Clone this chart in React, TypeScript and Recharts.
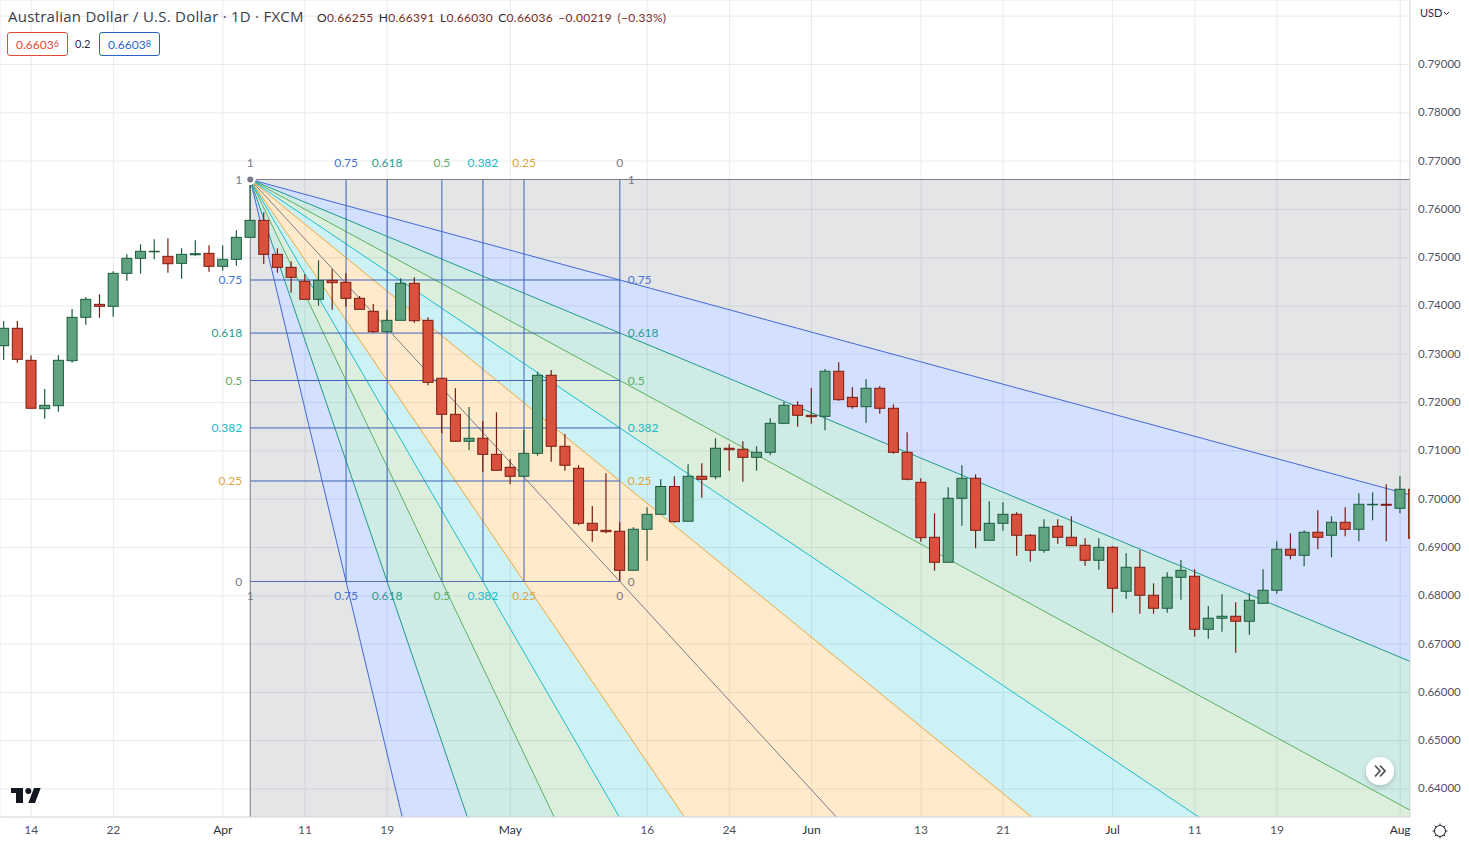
import { Area, Bar, CartesianGrid, ComposedChart, Line, ReferenceDot, ReferenceLine, XAxis, YAxis } from "recharts";

const firstBar = -2;
const opens = [
  0.73177, 0.73538, 0.72875, 0.71873, 0.71935, 0.72867, 0.73765, 0.74034, 0.73993, 0.74676, 0.74987, 0.7513, 0.75028,
  0.74883, 0.75061, 0.7509, 0.74821, 0.74966, 0.75421, 0.75773, 0.75069, 0.748, 0.74511, 0.74138, 0.74531, 0.7449,
  0.74159, 0.7389, 0.73467, 0.73703, 0.74469, 0.73703, 0.72503, 0.71757, 0.71199, 0.71261, 0.70929, 0.7066, 0.70474,
  0.7095, 0.72565, 0.71095, 0.7064, 0.69501, 0.69356, 0.69336, 0.68528, 0.69377, 0.69687, 0.70263, 0.69543, 0.70474,
  0.70466, 0.71054, 0.71033, 0.70867, 0.70971, 0.71571, 0.71944, 0.71737, 0.71716, 0.72648, 0.72109, 0.71915, 0.72296,
  0.71882, 0.70971, 0.7035, 0.69211, 0.68694, 0.70019, 0.70433, 0.69149, 0.69501, 0.69687, 0.69253, 0.68942, 0.69439,
  0.69211, 0.69046, 0.68735, 0.69004, 0.68094, 0.6859, 0.68011, 0.67742, 0.68383, 0.68404, 0.67307, 0.67535, 0.67576,
  0.67473, 0.67845, 0.68114, 0.68963, 0.68839, 0.69315, 0.69253, 0.69522, 0.69377, 0.6989, 0.69894, 0.69812, 0.70205,
];
const highs = [
  0.73689, 0.73689, 0.72979, 0.72281, 0.72979, 0.73937, 0.74186, 0.74241, 0.74718, 0.75069, 0.75276, 0.7538, 0.75401,
  0.75194, 0.75359, 0.75256, 0.75256, 0.75566, 0.76619, 0.75939, 0.75194, 0.74925, 0.74655, 0.74945, 0.74765, 0.74676,
  0.74206, 0.74041, 0.73916, 0.74573, 0.74593, 0.73765, 0.72503, 0.72296, 0.71909, 0.71619, 0.71799, 0.70826, 0.71432,
  0.72639, 0.72674, 0.7135, 0.70702, 0.69859, 0.70536, 0.69522, 0.69418, 0.69832, 0.70412, 0.70474, 0.70722, 0.70743,
  0.71261, 0.71136, 0.71199, 0.71095, 0.71675, 0.72018, 0.72027, 0.72302, 0.72695, 0.72834, 0.72316, 0.72482, 0.72343,
  0.71964, 0.71385, 0.70433, 0.69708, 0.70246, 0.70702, 0.70515, 0.69957, 0.69936, 0.69729, 0.6928, 0.69584, 0.69584,
  0.69646, 0.69191, 0.69191, 0.69025, 0.6888, 0.68948, 0.68259, 0.68487, 0.68741, 0.68549, 0.67789, 0.68031, 0.67866,
  0.68052, 0.68549, 0.69129, 0.69294, 0.69356, 0.6977, 0.69646, 0.69832, 0.70122, 0.70143, 0.70308, 0.70474, 0.703,
];
const lows = [
  0.72881, 0.72826, 0.71882, 0.71666, 0.71811, 0.72826, 0.73612, 0.73757, 0.73778, 0.74523, 0.74668, 0.74966, 0.74689,
  0.74564, 0.7504, 0.74709, 0.7473, 0.74833, 0.75421, 0.74869, 0.74689, 0.74275, 0.74138, 0.74005, 0.73923, 0.73985,
  0.73931, 0.73447, 0.73447, 0.73703, 0.73654, 0.72358, 0.71364, 0.71199, 0.71018, 0.70569, 0.70598, 0.70308, 0.70474,
  0.709, 0.70776, 0.7059, 0.6946, 0.6912, 0.69294, 0.68307, 0.68528, 0.68727, 0.69687, 0.69514, 0.69543, 0.70031,
  0.70412, 0.7059, 0.70362, 0.7059, 0.70909, 0.7155, 0.71501, 0.71563, 0.71426, 0.72039, 0.71873, 0.71584, 0.7177,
  0.70942, 0.70391, 0.6912, 0.6852, 0.68694, 0.69451, 0.68984, 0.69149, 0.69348, 0.6883, 0.68706, 0.68893, 0.69079,
  0.69037, 0.68623, 0.68541, 0.6765, 0.6794, 0.6763, 0.6763, 0.6765, 0.6792, 0.67154, 0.67112, 0.67257, 0.66823,
  0.67195, 0.67845, 0.68044, 0.68756, 0.68611, 0.68963, 0.68797, 0.69232, 0.69129, 0.69563, 0.69129, 0.69708, 0.69191,
];
const closes = [
  0.73538, 0.72896, 0.71882, 0.71944, 0.72875, 0.73765, 0.74138, 0.73993, 0.74676, 0.74987, 0.75132, 0.75132, 0.74875,
  0.75069, 0.75082, 0.74821, 0.74966, 0.75421, 0.75773, 0.75069, 0.748, 0.74593, 0.74138, 0.74531, 0.74482, 0.74159,
  0.73931, 0.73467, 0.73703, 0.74469, 0.73695, 0.7242, 0.71757, 0.71199, 0.71261, 0.70929, 0.70598, 0.70474, 0.7095,
  0.72565, 0.71095, 0.70702, 0.69501, 0.69356, 0.69327, 0.68528, 0.69377, 0.69687, 0.70263, 0.69534, 0.70474, 0.70412,
  0.71054, 0.71025, 0.70867, 0.70971, 0.71571, 0.71944, 0.71737, 0.71708, 0.72648, 0.7206, 0.71915, 0.72296, 0.71882,
  0.70971, 0.70412, 0.69203, 0.68694, 0.70019, 0.70433, 0.69356, 0.69501, 0.69687, 0.69253, 0.68942, 0.69418, 0.69211,
  0.69037, 0.68735, 0.69004, 0.68156, 0.6859, 0.68011, 0.67742, 0.68383, 0.68528, 0.67307, 0.67535, 0.67576, 0.67473,
  0.67907, 0.68114, 0.68963, 0.68839, 0.69315, 0.69211, 0.69522, 0.69377, 0.69894, 0.69894, 0.69874, 0.70205, 0.69191,
];

const tickBars = [0, 6, 14, 20, 26, 35, 45, 51, 57, 65, 71, 79, 85, 91, 100];
const tickLabels = ["14", "22", "Apr", "11", "19", "May", "16", "24", "Jun", "13", "21", "Jul", "11", "19", "Aug"];
const priceTicks = [0.8, 0.79, 0.78, 0.77, 0.76, 0.75, 0.74, 0.73, 0.72, 0.71, 0.7, 0.69, 0.68, 0.67, 0.66, 0.65, 0.64];

// fan drawing: anchored on the high bar, box ends on the low bar, time levels snap to bars
const anchorBar = 16;
const endBar = 43;
const topPrice = 0.76619;
const zeroPrice = 0.68296;
const levels = [0.75, 0.618, 0.5, 0.382, 0.25];
const levelBars = [23, 26, 30, 33, 36];
const levelNames = ["0.75", "0.618", "0.5", "0.382", "0.25"];
const lineColors = ["#4169d8", "#1f9a8a", "#5cb060", "#1cbcd0", "#f0a83c"];
const labelColors = ["#4a72d0", "#2a9d8c", "#5fae63", "#22b8c9", "#e0a33f"];
const fillColors = ["#2962ff", "#089981", "#4caf50", "#00bcd4", "#ff9800"];
const gray = "#787b86";

const xMin = -2.28;
const xMax = 100.72;
const yMin = 0.6342;
const yMax = 0.80335;

const candles = opens.map((open, i) => ({
  x: firstBar + i,
  open,
  high: highs[i],
  low: lows[i],
  close: closes[i],
}));

const levelPrice = (l: number) => zeroPrice + l * (topPrice - zeroPrice);
const priceAtEdge = (throughBar: number, throughPrice: number) =>
  topPrice + ((throughPrice - topPrice) * (xMax - anchorBar)) / (throughBar - anchorBar);

const hEdge = levels.map((l) => priceAtEdge(endBar, levelPrice(l)));
const vEdge = levelBars.map((b) => priceAtEdge(b, zeroPrice));
const zeroEdge = priceAtEdge(endBar, zeroPrice);

const wedge = (a: number, b: number) => [
  { x: anchorBar, band: [topPrice, topPrice] },
  { x: xMax, band: [a, b] },
];
const ray = (edge: number) => [
  { x: anchorBar, y: topPrice },
  { x: xMax, y: edge },
];

function Candle(props: any) {
  const { x, y, width, height, payload } = props;
  const { open, high, low, close } = payload;
  const k = height / (high - low);
  const up = close >= open;
  const top = y + (high - Math.max(open, close)) * k;
  const bottom = y + (high - Math.min(open, close)) * k;
  const mid = x + width / 2;
  const edge = up ? "#1d5c3f" : "#7b1c10";
  return (
    <g>
      <line x1={mid} x2={mid} y1={y} y2={y + height} stroke={edge} strokeWidth={1.2} />
      <rect
        x={mid - 5}
        y={top}
        width={10}
        height={Math.max(bottom - top, 0.5)}
        fill={up ? "#60a381" : "#d9503c"}
        stroke={edge}
        strokeWidth={1}
      />
    </g>
  );
}

function BarTick(props: any) {
  const { x, y, payload } = props;
  const label = tickLabels[tickBars.indexOf(payload.value)];
  const month = /[A-Za-z]/.test(label);
  return (
    <text x={x} y={y + 9} textAnchor="middle" fontSize={12} fill={month ? "#2a2e39" : "#50535e"}>
      {label}
    </text>
  );
}

function PriceTick(props: any) {
  const { x, y, payload } = props;
  if (payload.value >= 0.8) return null;
  return (
    <text x={x} y={y + 3.5} fontSize={11.5} fill="#50535e">
      {payload.value.toFixed(5)}
    </text>
  );
}

const dotLabel = (x: number, y: number, value: string, position: string, fill: string, offset = 8) => (
  <ReferenceDot
    key={`${position}-${value}-${x}-${y}`}
    x={x}
    y={y}
    r={0}
    stroke="none"
    fill="none"
    ifOverflow="visible"
    label={{ value, position, fill, fontSize: 12, offset }}
  />
);

export default function App() {
  return (
    <div
      style={{
        position: "absolute",
        left: 0,
        top: 0,
        width: 1469,
        height: 845,
        overflow: "hidden",
        background: "#fff",
        fontFamily: "Lato, sans-serif",
      }}
    >
      <ComposedChart
        width={1469}
        height={845}
        data={candles}
        margin={{ top: 0, right: 0, bottom: 0, left: 0 }}
      >
        <CartesianGrid stroke="#e9eaed" strokeWidth={1} />
        <XAxis
          dataKey="x"
          type="number"
          domain={[xMin, xMax]}
          allowDataOverflow
          ticks={tickBars}
          interval={0}
          height={28}
          tick={<BarTick />}
          tickLine={false}
          axisLine={{ stroke: "#dadbe0" }}
        />
        <YAxis
          orientation="right"
          type="number"
          domain={[yMin, yMax]}
          allowDataOverflow
          ticks={priceTicks}
          interval={0}
          width={59}
          tickLine={false}
          tickMargin={2}
          axisLine={{ stroke: "#dadbe0" }}
          tick={<PriceTick />}
        />

        <Area data={wedge(topPrice, hEdge[0])} dataKey="band" stroke="none" fill={gray} fillOpacity={0.2} isAnimationActive={false} />
        {levels.map((_, i) => (
          <Area
            key={`h${i}`}
            data={wedge(hEdge[i], i < 4 ? hEdge[i + 1] : zeroEdge)}
            dataKey="band"
            stroke="none"
            fill={fillColors[i]}
            fillOpacity={0.2}
            isAnimationActive={false}
          />
        ))}
        {levels.map((_, i) => (
          <Area
            key={`v${i}`}
            data={wedge(vEdge[i], i < 4 ? vEdge[i + 1] : zeroEdge)}
            dataKey="band"
            stroke="none"
            fill={fillColors[i]}
            fillOpacity={0.2}
            isAnimationActive={false}
          />
        ))}
        <Area
          data={[
            { x: anchorBar, band: [vEdge[0], topPrice] },
            { x: xMax, band: [vEdge[0], vEdge[0]] },
          ]}
          dataKey="band"
          stroke="none"
          fill={gray}
          fillOpacity={0.2}
          isAnimationActive={false}
        />

        {levels.map((_, i) => (
          <Line key={`hr${i}`} data={ray(hEdge[i])} dataKey="y" stroke={lineColors[i]} strokeWidth={1} dot={false} isAnimationActive={false} />
        ))}
        {levels.map((_, i) => (
          <Line key={`vr${i}`} data={ray(vEdge[i])} dataKey="y" stroke={lineColors[i]} strokeWidth={1} dot={false} isAnimationActive={false} />
        ))}
        <Line data={ray(zeroEdge)} dataKey="y" stroke={gray} strokeWidth={1} dot={false} isAnimationActive={false} />

        {levels.map((l) => (
          <ReferenceLine
            key={`box-h${l}`}
            segment={[{ x: anchorBar, y: levelPrice(l) }, { x: endBar, y: levelPrice(l) }]}
            stroke="#3d62b8"
            ifOverflow="visible"
          />
        ))}
        {levelBars.map((b) => (
          <ReferenceLine
            key={`box-v${b}`}
            segment={[{ x: b, y: topPrice }, { x: b, y: zeroPrice }]}
            stroke="#3d62b8"
            ifOverflow="visible"
          />
        ))}
        <ReferenceLine segment={[{ x: endBar, y: topPrice }, { x: endBar, y: zeroPrice }]} stroke="#3d62b8" ifOverflow="visible" />
        <ReferenceLine segment={[{ x: anchorBar, y: zeroPrice }, { x: endBar, y: zeroPrice }]} stroke="#5a6fae" ifOverflow="visible" />
        <ReferenceLine segment={[{ x: anchorBar, y: topPrice }, { x: xMax, y: topPrice }]} stroke={gray} ifOverflow="visible" />
        <ReferenceLine segment={[{ x: anchorBar, y: topPrice }, { x: anchorBar, y: yMin }]} stroke={gray} ifOverflow="visible" />

        <Bar zIndex={900} dataKey={(d: any) => [d.low, d.high]} barSize={10} shape={<Candle />} isAnimationActive={false} />

        {levels.map((l, i) => dotLabel(anchorBar, levelPrice(l), levelNames[i], "left", labelColors[i]))}
        {levels.map((l, i) => dotLabel(endBar, levelPrice(l), levelNames[i], "right", labelColors[i]))}
        {levelBars.map((b, i) => dotLabel(b, topPrice, levelNames[i], "top", labelColors[i], 12))}
        {levelBars.map((b, i) => dotLabel(b, zeroPrice, levelNames[i], "bottom", labelColors[i], 10))}
        {dotLabel(anchorBar, topPrice, "1", "left", gray)}
        {dotLabel(anchorBar, topPrice, "1", "top", gray, 12)}
        {dotLabel(endBar, topPrice, "1", "right", gray)}
        {dotLabel(endBar, topPrice, "0", "top", gray, 12)}
        {dotLabel(anchorBar, zeroPrice, "0", "left", gray)}
        {dotLabel(anchorBar, zeroPrice, "1", "bottom", gray, 10)}
        {dotLabel(endBar, zeroPrice, "0", "right", gray)}
        {dotLabel(endBar, zeroPrice, "0", "bottom", gray, 10)}
      </ComposedChart>

      <div style={{ position: "absolute", left: 8, top: 6, fontSize: 15, letterSpacing: 0.25, fontFamily: "'Open Sans', sans-serif", color: "#3a3e49", whiteSpace: "nowrap" }}>
        Australian Dollar / U.S. Dollar · 1D · FXCM
      </div>
      <div style={{ position: "absolute", left: 317, top: 10, fontSize: 12, color: "#7a2b25", whiteSpace: "nowrap", wordSpacing: 2, letterSpacing: 0.27 }}>
        <span style={{ color: "#2a2e39" }}>O</span>0.66255 <span style={{ color: "#2a2e39" }}>H</span>0.66391{" "}
        <span style={{ color: "#2a2e39" }}>L</span>0.66030 <span style={{ color: "#2a2e39" }}>C</span>0.66036 −0.00219 (−0.33%)
      </div>
      <div style={{ position: "absolute", left: 7, top: 32, width: 59, height: 22, border: "1px solid #e0483a", borderRadius: 3, color: "#e0483a", fontSize: 12, lineHeight: "21px", textAlign: "center", background: "#fff" }}>
        0.6603<span style={{ fontSize: 9, verticalAlign: 2 }}>6</span>
      </div>
      <div style={{ position: "absolute", left: 75, top: 37, fontSize: 11, color: "#2a2e39" }}>0.2</div>
      <div style={{ position: "absolute", left: 99, top: 32, width: 59, height: 22, border: "1px solid #2962c8", borderRadius: 3, color: "#2962c8", fontSize: 12, lineHeight: "21px", textAlign: "center", background: "#fff" }}>
        0.6603<span style={{ fontSize: 9, verticalAlign: 2 }}>8</span>
      </div>
      <div style={{ position: "absolute", left: 1420, top: 6, fontSize: 11, color: "#2a2e39" }}>USD</div>

      <svg style={{ position: "absolute", left: 0, top: 0, pointerEvents: "none" }} width={1469} height={845}>
        <path d="M1444 12l2.5 2.5 2.5-2.5" fill="none" stroke="#2a2e39" strokeWidth={1} />
        <path d="M11 788H23V803H16V793H11Z M34 788H40.7L35 803H28.3Z" fill="#131722" />
        <circle cx={28.3} cy={791} r={3} fill="#131722" />
        <circle cx={1440} cy={831} r={5.5} fill="none" stroke="#2a2e39" strokeWidth={1.1} />
        <path d="M1440 823.5v2M1440 836.5v2M1432.5 831h2M1445.5 831h2M1434.7 825.7l1.4 1.4M1443.9 834.9l1.4 1.4M1445.3 825.7l-1.4 1.4M1436.1 834.9l-1.4 1.4" stroke="#2a2e39" strokeWidth={1} />
        <defs>
          <filter id="btn-shadow" x="-50%" y="-50%" width="200%" height="200%">
            <feDropShadow dx={0} dy={2} stdDeviation={2.5} floodColor="#000" floodOpacity={0.2} />
          </filter>
        </defs>
        <circle cx={1380} cy={771} r={14} fill="#fff" filter="url(#btn-shadow)" />
        <path d="M1375 765.5l5 5.5-5 5.5M1380 765.5l5 5.5-5 5.5" fill="none" stroke="#50535e" strokeWidth={1.8} />
      </svg>
    </div>
  );
}
